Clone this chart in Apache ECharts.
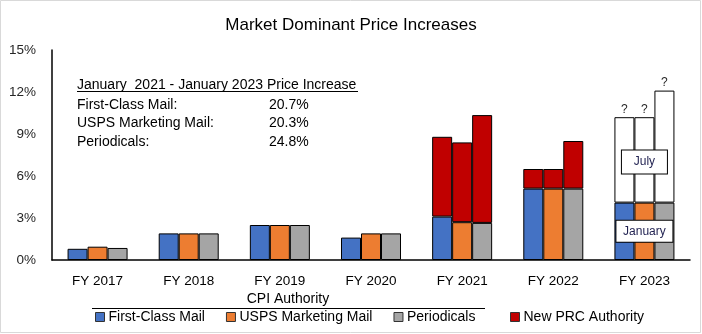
<!DOCTYPE html>
<html>
<head>
<meta charset="utf-8">
<script src="https://cdn.jsdelivr.net/npm/echarts@6/dist/echarts.min.js"></script>
<style>
  html, body { margin: 0; padding: 0; background: #fff; }
  #chart { width: 702px; height: 334px; }
</style>
</head>
<body>
<div id="chart"></div>
<script>
// Fiscal years on the category axis
const years = ['FY 2017', 'FY 2018', 'FY 2019', 'FY 2020', 'FY 2021', 'FY 2022', 'FY 2023'];

// CPI-based increases (%) per mail class
const fcmCPI = [0.8, 1.9, 2.5, 1.6, 3.1, 5.1, 4.1];
const mktCPI = [0.95, 1.9, 2.5, 1.9, 2.7, 5.1, 4.1];
const perCPI = [0.86, 1.9, 2.5, 1.9, 2.65, 5.1, 4.1];

// Additional increases from the new PRC authority (%); FY 2023 is the pending July step
const fcmPRC = [0, 0, 0, 0, 5.7, 1.4, 6.1];
const mktPRC = [0, 0, 0, 0, 5.7, 1.4, 6.1];
const perPRC = [0, 0, 0, 0, 7.7, 3.4, 8.0];

// Y axis ticks
const yTicks = [0, 3, 6, 9, 12, 15];

// Cumulative change summary
const summaryHeader = 'January  2021 - January 2023 Price Increase';
const summaryNames = ['First-Class Mail:', 'USPS Marketing Mail:', 'Periodicals:'];
const summaryValues = ['20.7%', '20.3%', '24.8%'];

const FONT = '"Liberation Sans", Arial, sans-serif';
const AXIS = 13.5;
const BODY = 14;
const pendingIdx = years.length - 1;

const chart = echarts.init(document.getElementById('chart'), null, { renderer: 'canvas' });

const border = { borderColor: '#000', borderWidth: 1 };
const qLabel = { show: true, position: 'top', distance: 2, formatter: '?', color: '#2a2a2a', fontSize: 12, fontFamily: FONT };

function cpiSeries(name, color, stack, values, extra) {
  return Object.assign({
    name: name,
    type: 'bar',
    stack: stack,
    barWidth: 20,
    barGap: '0%',
    itemStyle: Object.assign({ color: color }, border),
    data: values.map(v => ({ value: v }))
  }, extra || {});
}

function prcSeries(stack, values) {
  return {
    name: 'New PRC Authority',
    type: 'bar',
    stack: stack,
    barWidth: 20,
    barGap: '0%',
    itemStyle: Object.assign({ color: '#C00000' }, border),
    data: values.map((v, i) => {
      if (i === pendingIdx) {
        return { value: v, itemStyle: { color: '#FFFFFF' }, label: qLabel };
      }
      return { value: v === 0 ? '-' : v };
    })
  };
}

// Boxed period labels attached to the middle (Marketing Mail) stack of FY 2023
const boxLabel = (text, w, h) => ({
  show: true, position: 'inside', formatter: text,
  color: '#1F2050', fontSize: 12, fontFamily: FONT,
  backgroundColor: '#fff', borderColor: '#000', borderWidth: 1,
  width: w, height: h, lineHeight: h, align: 'center', padding: 0
});

const mktCpiData = mktCPI.map((v, i) => i === pendingIdx ? { value: v, label: boxLabel('January', 56, 21) } : { value: v });
const mktPrcSeries = prcSeries('mkt', mktPRC);
mktPrcSeries.z = 4;
mktPrcSeries.data[pendingIdx] = {
  value: mktPRC[pendingIdx],
  itemStyle: { color: '#FFFFFF' },
  label: Object.assign(boxLabel('July', 45, 23), { offset: [0, 2] })
};
// the '?' over the middle stack is drawn by a separate label anchored to the bar top
const qMark = {
  type: 'bar', stack: 'mkt', barWidth: 20, barGap: '0%', silent: true,
  itemStyle: { color: 'transparent' },
  data: mktPRC.map((v, i) => i === pendingIdx ? { value: 0, label: qLabel } : '-')
};

const legendBase = {
  top: 305,
  itemWidth: 9, itemHeight: 9, itemGap: 21,
  icon: 'rect',
  itemStyle: { borderColor: '#333', borderWidth: 1 },
  textStyle: { fontFamily: FONT, fontSize: BODY, color: '#000', padding: [0, 0, 0, -1] }
};

const option = {
  animation: false,
  backgroundColor: '#fff',
  textStyle: { fontFamily: FONT },
  title: {
    text: 'Market Dominant Price Increases',
    left: 'center', top: 12,
    textStyle: { fontFamily: FONT, fontSize: 17, fontWeight: 'normal', color: '#000' }
  },
  legend: [
    Object.assign({ left: 90, data: ['First-Class Mail', 'USPS Marketing Mail', 'Periodicals'] }, legendBase),
    Object.assign({ left: 505, data: ['New PRC Authority'] }, legendBase)
  ],
  grid: { left: 52, right: 12, top: 50, bottom: 74, containLabel: false },
  xAxis: {
    type: 'category',
    data: years,
    axisLine: { lineStyle: { color: '#000', width: 1.5 } },
    axisTick: { show: false },
    axisLabel: { color: '#000', fontSize: AXIS, fontFamily: FONT, margin: 14 }
  },
  yAxis: {
    type: 'value',
    min: yTicks[0], max: yTicks[yTicks.length - 1], interval: yTicks[1] - yTicks[0],
    axisLine: { show: true, lineStyle: { color: '#000', width: 1.5 } },
    axisTick: { show: false },
    splitLine: { show: false },
    axisLabel: { color: '#262626', fontSize: AXIS, fontFamily: FONT, margin: 16, formatter: '{value}%' }
  },
  series: [
    cpiSeries('First-Class Mail', '#4472C4', 'fcm', fcmCPI),
    cpiSeries('USPS Marketing Mail', '#ED7D31', 'mkt', mktCPI, { z: 4, data: mktCpiData }),
    cpiSeries('Periodicals', '#A5A5A5', 'per', perCPI),
    prcSeries('fcm', fcmPRC),
    mktPrcSeries,
    prcSeries('per', perPRC),
    qMark
  ],
  graphic: [
    // outer frame
    { type: 'rect', shape: { x: 0.5, y: 0.5, width: 700, height: 332 }, style: { fill: 'none', stroke: '#D9D9D9', lineWidth: 1 }, silent: true },
    // summary block
    { type: 'text', x: 77, y: 85, style: { text: summaryHeader, font: BODY + 'px ' + FONT, fill: '#000', verticalAlign: 'middle' } },
    { type: 'line', shape: { x1: 77, y1: 91.5, x2: 358, y2: 91.5 }, style: { stroke: '#000', lineWidth: 1 } },
    ...summaryNames.map((t, i) => ({ type: 'text', x: 77, y: 105 + i * 18.4, style: { text: t, font: BODY + 'px ' + FONT, fill: '#000', verticalAlign: 'middle' } })),
    ...summaryValues.map((t, i) => ({ type: 'text', x: 269, y: 105 + i * 18.4, style: { text: t, font: BODY + 'px ' + FONT, fill: '#000', verticalAlign: 'middle' } })),
    // legend group heading
    { type: 'text', x: 288, y: 299.5, style: { text: 'CPI Authority', font: BODY + 'px ' + FONT, fill: '#000', align: 'center', verticalAlign: 'middle' } },
    { type: 'line', shape: { x1: 92, y1: 308.5, x2: 485, y2: 308.5 }, style: { stroke: '#000', lineWidth: 1 } }
  ]
};

chart.setOption(option);
</script>
</body>
</html>
